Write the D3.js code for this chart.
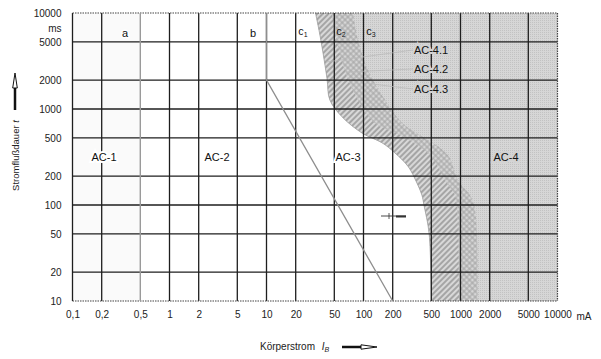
<!DOCTYPE html>
<html><head><meta charset="utf-8">
<script src="https://cdn.jsdelivr.net/npm/d3@7"></script>
<style>body{margin:0;background:#fff}svg{display:block;font-family:"Liberation Sans",Arial,sans-serif}</style>
</head><body><svg id="c" width="601" height="359"></svg>
<script>
// ---- data ----
const xTicks=[0.1,0.2,0.5,1,2,5,10,20,50,100,200,500,1000,2000,5000,10000];
const xTickLabels=["0,1","0,2","0,5","1","2","5","10","20","50","100","200","500","1000","2000","5000","10000"];
const yTicks=[10,20,50,100,200,500,1000,2000,5000,10000];
const yTickLabels=["10","20","50","100","200","500","1000","2000","5000","10000"];
const c1mA=[500,475,420,400,355,290,210,155,97,60,45,42,36,32];
const c1ms=[10,50,100,127,170,250,350,445,560,830,1240,2100,5500,10000];
const c2mA=[970,945,920,875,690,485,238,131,88,64,53,47];
const c2ms=[10,50,100,127,182,332,536,715,1240,2550,5230,10000];
const c3mA=[1500,1480,1380,1250,940,740,380,250,167,111,88,78];
const c3ms=[10,50,100,127,182,332,536,715,1240,2550,5230,10000];
const lineAmA=[0.5,0.5], lineAms=[10,10000];
const lineBmA=[10,10,200], lineBms=[10000,2000,10];
const zoneLabels=["AC-1","AC-2","AC-3","AC-4"];
const ac4Labels=["AC-4.1","AC-4.2","AC-4.3"];
const curveLabels=["a","b","c","c","c"], curveSubs=["","","1","2","3"];

// ---- chart ----
const svg=d3.select("#c");
const x=d3.scaleLog().domain([0.1,10000]).range([72.5,557.5]);
const y=d3.scaleLog().domain([10,10000]).range([301,13]);
const X0=x(0.1),X1=x(10000),Y0=y(10000),Y1=y(10);
const defs=svg.append("defs");
defs.append("clipPath").attr("id","clip").append("rect").attr("x",X0).attr("y",Y0).attr("width",X1-X0).attr("height",Y1-Y0);
const st=defs.append("pattern").attr("id","stip").attr("width",2).attr("height",2).attr("patternUnits","userSpaceOnUse");
st.append("rect").attr("width",2).attr("height",2).attr("fill","#d6d6d6");
st.append("rect").attr("width",1).attr("height",1).attr("fill","#c2c2c2");
const h=defs.append("pattern").attr("id","hatch").attr("width",4).attr("height",4).attr("patternUnits","userSpaceOnUse").attr("patternTransform","rotate(45)");
h.append("rect").attr("width",4).attr("height",4).attr("fill","#d8d8d8");
h.append("line").attr("x1",2).attr("x2",2).attr("y1",0).attr("y2",4).attr("stroke","#8a8a8a").attr("stroke-width",1.3);
const cr=defs.append("pattern").attr("id","cross").attr("width",4).attr("height",4).attr("patternUnits","userSpaceOnUse").attr("patternTransform","rotate(45)");
cr.append("rect").attr("width",4).attr("height",4).attr("fill","#d6d6d6");
cr.append("line").attr("x1",2).attr("x2",2).attr("y1",0).attr("y2",4).attr("stroke","#a2a2a2").attr("stroke-width",1);
cr.append("line").attr("y1",2).attr("y2",2).attr("x1",0).attr("x2",4).attr("stroke","#a2a2a2").attr("stroke-width",1);

const pts=(m,t)=>m.map((d,i)=>[x(d),y(t[i])]);
const lg=d3.line().curve(d3.curveCatmullRom.alpha(0.5));
const p1=pts(c1mA,c1ms),p2=pts(c2mA,c2ms),p3=pts(c3mA,c3ms);
const rev=a=>a.slice().reverse();
const plot=svg.append("g").attr("clip-path","url(#clip)");
plot.append("rect").attr("x",X0).attr("y",Y0).attr("width",x(0.5)-X0).attr("height",Y1-Y0).attr("fill","#fafafa");
plot.append("path").attr("d",lg(p1)+`L${X1+5},${Y0-5}L${X1+5},${Y1+5}Z`).attr("fill","url(#stip)");
plot.append("path").attr("d",lg(p1)+lg(rev(p2)).replace(/^M/,"L")+"Z").attr("fill","url(#hatch)");
plot.append("path").attr("d",lg(p2)+lg(rev(p3)).replace(/^M/,"L")+"Z").attr("fill","url(#cross)");
plot.append("path").attr("d",lg(p1)).attr("fill","none").attr("stroke","#a0a0a0").attr("stroke-width",0.8);

// grid
const gc="#1e1e1e";
svg.append("g").selectAll("line").data(xTicks.filter(d=>d!==0.5&&d!==10000)).join("line")
  .attr("x1",d=>x(d)).attr("x2",d=>x(d)).attr("y1",Y0).attr("y2",Y1)
  .attr("stroke",gc).attr("stroke-width",1.3);
svg.append("g").selectAll("line").data(yTicks.filter(d=>d!==10&&d!==10000)).join("line")
  .attr("x1",X0).attr("x2",X1).attr("y1",d=>y(d)).attr("y2",d=>y(d))
  .attr("stroke",gc).attr("stroke-width",1.3);
// frame (dotted)
const fr=[[X0,Y0,X1,Y0],[X0,Y1,X1,Y1],[X1,Y0,X1,Y1]];
svg.append("g").selectAll("line").data(fr).join("line")
  .attr("x1",d=>d[0]).attr("y1",d=>d[1]).attr("x2",d=>d[2]).attr("y2",d=>d[3])
  .attr("stroke","#444").attr("stroke-width",1.2).attr("stroke-dasharray","1.5,1");

// lines a and b
const ln=d3.line();
svg.append("path").attr("d",ln(pts(lineAmA,lineAms))).attr("fill","none").attr("stroke","#9a9a9a").attr("stroke-width",1.4);
svg.append("path").attr("d",ln(pts(lineBmA,lineBms))).attr("fill","none").attr("stroke","#8e8e8e").attr("stroke-width",1.3);

// axes labels
const font='"Liberation Sans",Arial,sans-serif';
const ax=svg.append("g").attr("transform",`translate(0,${Y1})`)
  .call(d3.axisBottom(x).tickValues(xTicks).tickFormat((d,i)=>xTickLabels[i]).tickSize(0).tickPadding(10));
ax.select(".domain").remove();
ax.attr("font-family",font).attr("font-size",10).selectAll("text").attr("fill","#222");
const ay=svg.append("g").attr("transform",`translate(${X0},0)`)
  .call(d3.axisLeft(y).tickValues(yTicks).tickFormat((d,i)=>yTickLabels[i]).tickSize(0).tickPadding(11));
ay.select(".domain").remove();
ay.attr("font-family",font).attr("font-size",10).selectAll("text").attr("fill","#222");
svg.append("text").attr("x",61.5).attr("y",32).attr("text-anchor","end").attr("font-size",10).attr("fill","#222").text("ms");
svg.append("text").attr("x",584).attr("y",Y1+18.5).attr("text-anchor","middle").attr("font-size",10).attr("fill","#222").text("mA");

// zone labels
const zpos=[[104,157],[217,157],[348,157],[506,157]];
svg.append("g").selectAll("text").data(zoneLabels).join("text")
  .attr("x",(d,i)=>zpos[i][0]).attr("y",(d,i)=>zpos[i][1]+4).attr("text-anchor","middle")
  .attr("font-size",11).attr("fill","#111")
  .attr("stroke",(d,i)=>i===3?"#d2d2d2":"#fff").attr("stroke-width",4).attr("paint-order","stroke")
  .text(d=>d);
const a4y=[50,69,89];
svg.append("g").selectAll("line").data(ac4Labels).join("line")
  .attr("x1",413).attr("y1",(d,i)=>a4y[i]).attr("x2",(d,i)=>[326,347,372][i]).attr("y2",(d,i)=>[62,72,84][i])
  .attr("stroke","#b8b8b8").attr("stroke-width",0.7);
svg.append("g").selectAll("text").data(ac4Labels).join("text")
  .attr("x",431).attr("y",(d,i)=>a4y[i]+4).attr("text-anchor","middle")
  .attr("font-size",11).attr("fill","#111")
  .attr("stroke","#d2d2d2").attr("stroke-width",4).attr("paint-order","stroke")
  .text(d=>d);
const cpos=[[125,33],[253,33],[303,31],[341,31],[371,31]];
const cl=svg.append("g").selectAll("text").data(curveLabels).join("text")
  .attr("x",(d,i)=>cpos[i][0]).attr("y",(d,i)=>cpos[i][1]+4).attr("text-anchor","middle")
  .attr("font-size",11).attr("fill","#111")
  .attr("stroke",(d,i)=>i<3?"#fff":"none").attr("stroke-width",3).attr("paint-order","stroke");
cl.append("tspan").text(d=>d);
cl.append("tspan").attr("font-size",7).attr("dy",2).text((d,i)=>curveSubs[i]);

// small arrow mark
svg.append("line").attr("x1",381).attr("x2",406).attr("y1",216).attr("y2",216).attr("stroke","#333").attr("stroke-width",0.9);
svg.append("line").attr("x1",396).attr("x2",406).attr("y1",216.5).attr("y2",216.5).attr("stroke","#333").attr("stroke-width",2);
svg.append("line").attr("x1",389).attr("x2",389).attr("y1",213).attr("y2",219).attr("stroke","#333").attr("stroke-width",0.8);

// axis titles
svg.append("text").attr("transform","translate(19,155.5) rotate(-90)").attr("text-anchor","middle")
  .attr("font-size",9.5).attr("fill","#222")
  .call(t=>{t.append("tspan").text("Stromflußdauer ");t.append("tspan").attr("font-style","italic").text("t");});
svg.append("line").attr("x1",15).attr("x2",15).attr("y1",86).attr("y2",110).attr("stroke","#111").attr("stroke-width",2.5);
svg.append("path").attr("d","M15,73L17.3,88L12.7,88Z").attr("fill","#fff").attr("stroke","#111").attr("stroke-width",1);
svg.append("text").attr("x",260).attr("y",350).attr("font-size",10).attr("fill","#222")
  .call(t=>{t.append("tspan").text("Körperstrom ");t.append("tspan").attr("dx",4).attr("font-style","italic").text("I");t.append("tspan").attr("font-size",7).attr("dy",2).attr("font-style","italic").text("B");});
svg.append("line").attr("x1",342).attr("x2",362).attr("y1",347).attr("y2",347).attr("stroke","#111").attr("stroke-width",2.5);
svg.append("path").attr("d","M377,347L361,344.8L361,349.2Z").attr("fill","#fff").attr("stroke","#111").attr("stroke-width",1);
</script></body></html>
